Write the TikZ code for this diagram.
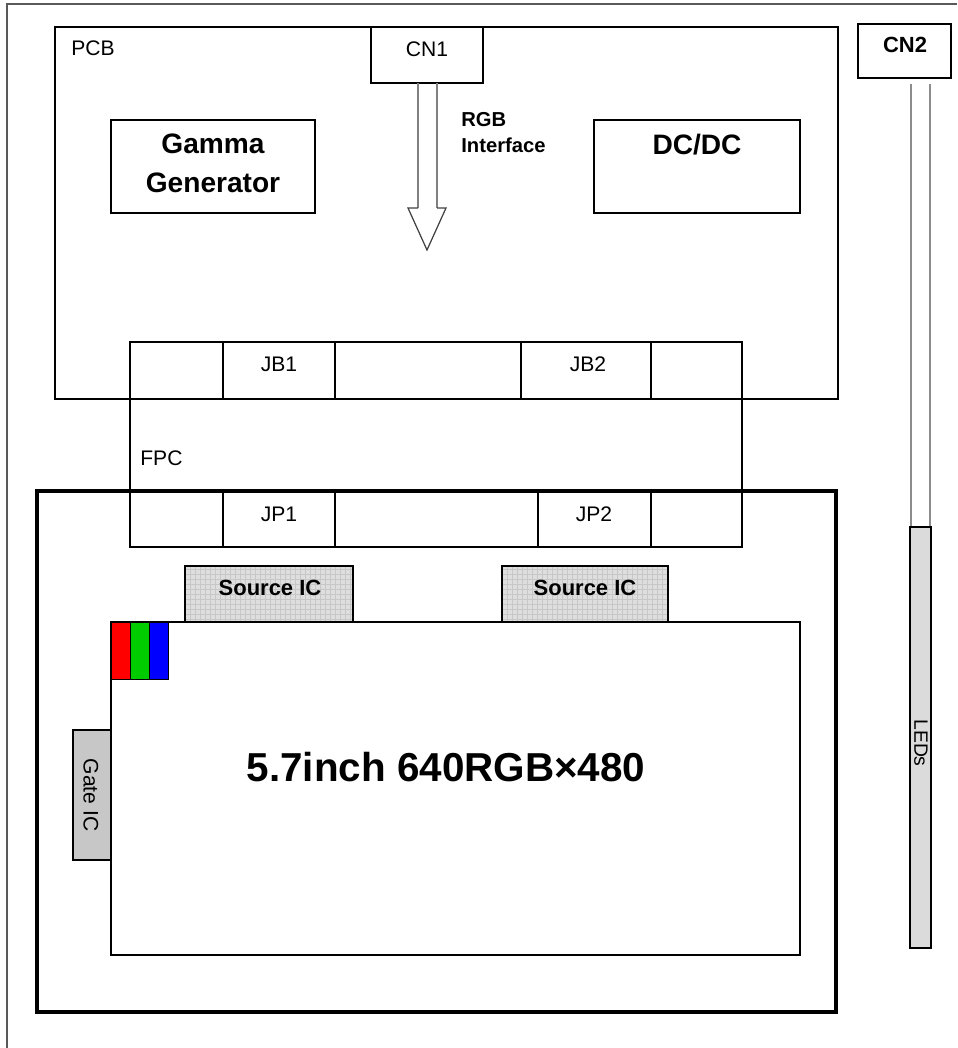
\documentclass[tikz,border=0pt]{standalone}
\usepackage{fontspec}
\setmainfont{Liberation Sans}
\usetikzlibrary{fit}
\begin{document}
\begin{tikzpicture}[x=0.02cm,y=-0.02cm,
  box/.style={draw=black, line width=0.8pt, inner sep=0pt},
  divider/.style={draw=black, line width=0.8pt},
  frameline/.style={draw=black!65, line width=0.8pt},
  lbl/.style={font=\fontsize{12}{14}\selectfont, inner sep=0pt},
  smlbl/.style={font=\fontsize{11}{13}\selectfont, inner sep=0pt},
  blbl/.style={font=\bfseries\fontsize{12.5}{15}\selectfont, inner sep=0pt},
  biglbl/.style={font=\bfseries\fontsize{16}{20}\selectfont, inner sep=0pt, align=center},
  ifacelbl/.style={font=\bfseries\fontsize{11.5}{14}\selectfont, inner sep=0pt, align=left},
  gridfill/.style={fill=black!13, path picture={\draw[black!22, line width=0.2pt] (path picture bounding box.south west) grid[step=0.1cm] (path picture bounding box.north east);}},
  wire/.style={draw=black!45, line width=1.2pt}]
\useasboundingbox (0,0) rectangle (957,1048);

% outer frame (open at right and bottom)
\draw[frameline] (957,4) -- (7,4) -- (7,1048);

% PCB
\node[box, fit={(55,27) (838,399)}] (pcb) {};
\node[lbl, anchor=west] (pcbl) at (71,48) {PCB};
\node[box, fill=white, fit={(371,27) (483,83)}] (cn1) {};
\node[lbl] (cn1l) at (427,49) {CN1};
\node[box, fit={(111,120) (315,213)}] (gamma) {};
\node[biglbl] (gammal) at (213,163) {Gamma\\[2pt]Generator};
\node[box, fit={(594,120) (800,213)}] (dcdc) {};
\node[biglbl] (dcdcl) at (697,145) {DC/DC};

% RGB interface arrow
\coordinate (a1) at (418,83);
\coordinate (a2) at (437,83);
\draw[black!50, line width=1.3pt] (a1) -- (418,208);
\draw[black!50, line width=1.3pt] (a2) -- (437,208);
\draw[black!75, line width=0.7pt] (418,208) -- (408,208) -- (427,250) -- (446,208) -- (437,208);
\node[ifacelbl, anchor=north west] (ifl) at (461,112) {RGB\\[1pt]Interface};

% LCD module thick frame
\node[draw=black, line width=2.8pt, inner sep=0pt, fit={(37,491) (836,1012)}] (lcm) {};

% FPC
\node[draw=black, line width=1.5pt, inner sep=0pt, fit={(130,342) (742,547)}] (fpc) {};
\node[lbl, anchor=west] (fpcl) at (140,458) {FPC};
\draw[divider] (223,342) -- (223,399);
\draw[divider] (335,342) -- (335,399);
\draw[divider] (521,342) -- (521,399);
\draw[divider] (651,342) -- (651,399);
\node[lbl] (jb1) at (279,364) {JB1};
\node[lbl] (jb2) at (588,364) {JB2};
\draw[divider] (223,491) -- (223,547);
\draw[divider] (335,491) -- (335,547);
\draw[divider] (538,491) -- (538,547);
\draw[divider] (651,491) -- (651,547);
\node[lbl] (jp1) at (279,514) {JP1};
\node[lbl] (jp2) at (594,514) {JP2};

% Source ICs
\node[box, gridfill, fit={(185,566) (353,622)}] (src1) {};
\node[blbl] (src1l) at (270,588) {Source IC};
\node[box, gridfill, fit={(502,566) (668,622)}] (src2) {};
\node[blbl] (src2l) at (585,588) {Source IC};

% panel
\node[box, fill=white, fit={(111,622) (800,955)}] (panel) {};
\draw[black, line width=0.4pt, fill=red] (111,622) rectangle (130,679);
\draw[black, line width=0.4pt, fill=green!80!black] (130,622) rectangle (149,679);
\draw[black, line width=0.4pt, fill=blue] (149,622) rectangle (168,679);
\node[font=\bfseries\fontsize{23}{28}\selectfont, inner sep=0pt] (mainl) at (446,767) {5.7inch 640RGB×480};

% Gate IC
\node[box, fill=black!22, fit={(73,730) (111,860)}] (gate) {};
\node[lbl, rotate=-90] (gatel) at (91,795) {Gate IC};

% CN2 and LEDs
\node[box, fit={(858,24) (951,78)}] (cn2) {};
\node[blbl] (cn2l) at (905,45) {CN2};
\node[box, fill=black!14, fit={(910,527) (931,948)}] (leds) {};
\node[smlbl, rotate=-90] (ledsl) at (921,743) {LEDs};
\coordinate (w1) at (911,84);
\coordinate (w2) at (930,84);
\draw[wire] (w1) -- (w1 |- leds.north);
\draw[wire] (w2) -- (w2 |- leds.north);
\end{tikzpicture}
\end{document}
